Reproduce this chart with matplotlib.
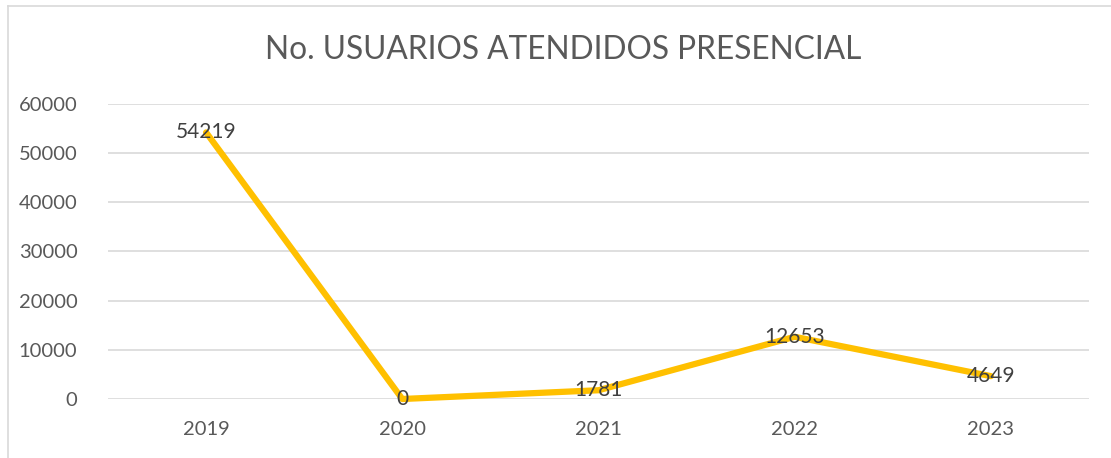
import matplotlib
matplotlib.use("Agg")
import matplotlib.pyplot as plt
from matplotlib.lines import Line2D

years = ["2019", "2020", "2021", "2022", "2023"]
usuarios = [54219, 0, 1781, 12653, 4649]
yticks = [0, 10000, 20000, 30000, 40000, 50000, 60000]

plt.rcParams['font.family'] = ['Lato', 'DejaVu Sans']

W, H = 1111, 458
fig = plt.figure(figsize=(W / 100, H / 100), dpi=100)
ax = fig.add_axes([108 / W, (H - 399) / H, (1089 - 108) / W, (399 - 104) / H])

x = list(range(len(years)))
ax.plot(x, usuarios, color='#FFC000', linewidth=4.5, solid_joinstyle='round',
        solid_capstyle='round', clip_on=False, zorder=3)
for xi, v in zip(x, usuarios):
    ax.text(xi, v, str(v), ha='center', va='center', fontsize=15, color='#404040', zorder=4)

ax.set_xlim(-0.5, len(years) - 0.5)
ax.set_ylim(0, 60000)
ax.set_xticks(x)
ax.set_xticklabels(years)
ax.set_yticks(yticks)
ax.set_yticklabels([str(t) for t in yticks])
ax.tick_params(axis='both', length=0, labelsize=14.5, labelcolor='#595959')
ax.tick_params(axis='y', pad=22)
ax.tick_params(axis='x', pad=16)
ax.grid(axis='y', color='#D9D9D9', linewidth=1.2)
ax.set_axisbelow(True)
for s in ax.spines.values():
    s.set_visible(False)

fig.text(563 / W, (H - 50) / H, "No. USUARIOS ATENDIDOS PRESENCIAL", ha='center', va='center',
         fontsize=22.8, color='#595959')

# chart frame
fig.add_artist(Line2D([8 / W, 1], [(H - 5.5) / H, (H - 5.5) / H], color='#D9D9D9', linewidth=1.2))
fig.add_artist(Line2D([8 / W, 8 / W], [0, (H - 5.5) / H], color='#D9D9D9', linewidth=1.2))

fig.savefig("out.png", dpi=100)
